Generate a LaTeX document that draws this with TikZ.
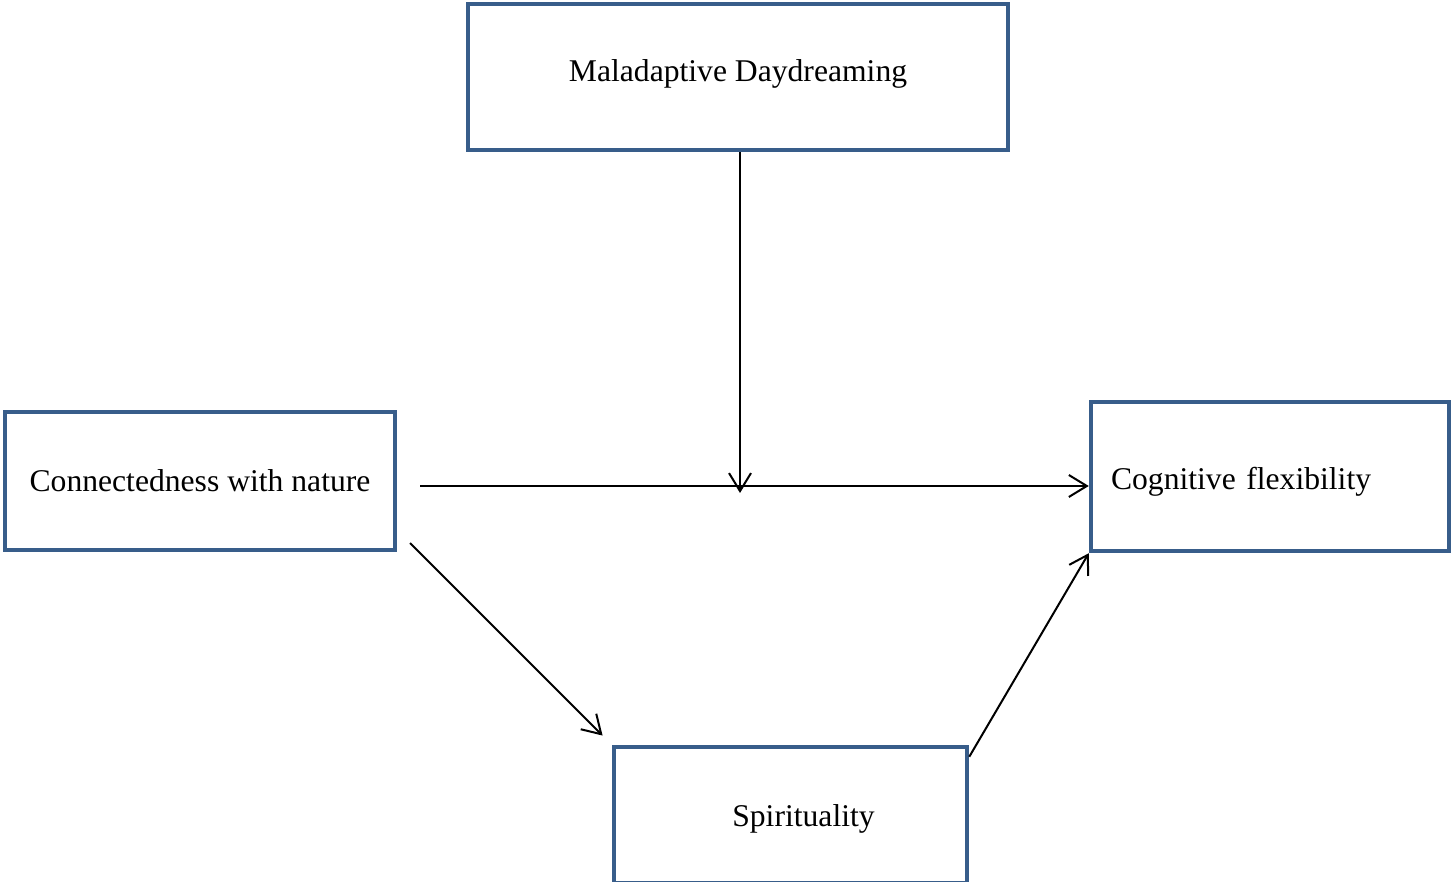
\documentclass[tikz,border=0pt]{standalone}
\usepackage{fontspec}
\setmainfont{Liberation Serif}
\usepackage{xcolor}
\usepackage{tikz}
\usetikzlibrary{arrows.meta,positioning,calc}
\definecolor{boxblue}{HTML}{385D8A}

\begin{document}
\begin{tikzpicture}[font=\fontsize{9}{11}\selectfont,
box/.style={draw=boxblue,line width=0.045cm,align=center,inner sep=0pt},
arr/.style={-{Straight Barb[length=0.18cm,width=0.22cm]},line width=0.02cm}]
\useasboundingbox (0,0) rectangle (14.53,8.81);
\node[box,minimum width=5.40cm,minimum height=1.46cm,text height=0.16cm] (daydream) at (7.38,8.04) {Maladaptive Daydreaming};
\node[box,minimum width=3.90cm,minimum height=1.38cm] (nature) at (2.00,4.00) {Connectedness with nature};
\node[box,minimum width=3.58cm,minimum height=1.49cm,text width=3.18cm,inner xsep=0.2cm,align=left,text height=0.32cm] (flex) at (12.70,4.045) {Cognitive flexibility};
\node[box,minimum width=3.53cm,minimum height=1.36cm,text height=0.29cm] (spirit) at (7.905,0.66) {\hspace*{0.26cm}Spirituality};
\coordinate (hstart) at (4.20,3.95);
\coordinate (meet) at (7.40,3.88);
\coordinate (dstart) at (4.10,3.38);
\draw[arr] (hstart) -- (flex.west |- hstart);
\draw[arr] (daydream.south -| meet) -- (meet);
\draw[arr,shorten >=0.13cm] (dstart) -- (spirit.north west);
\draw[arr] ($(spirit.north east)+(0,-0.12)$) -- (flex.south west);
\end{tikzpicture}
\end{document}
